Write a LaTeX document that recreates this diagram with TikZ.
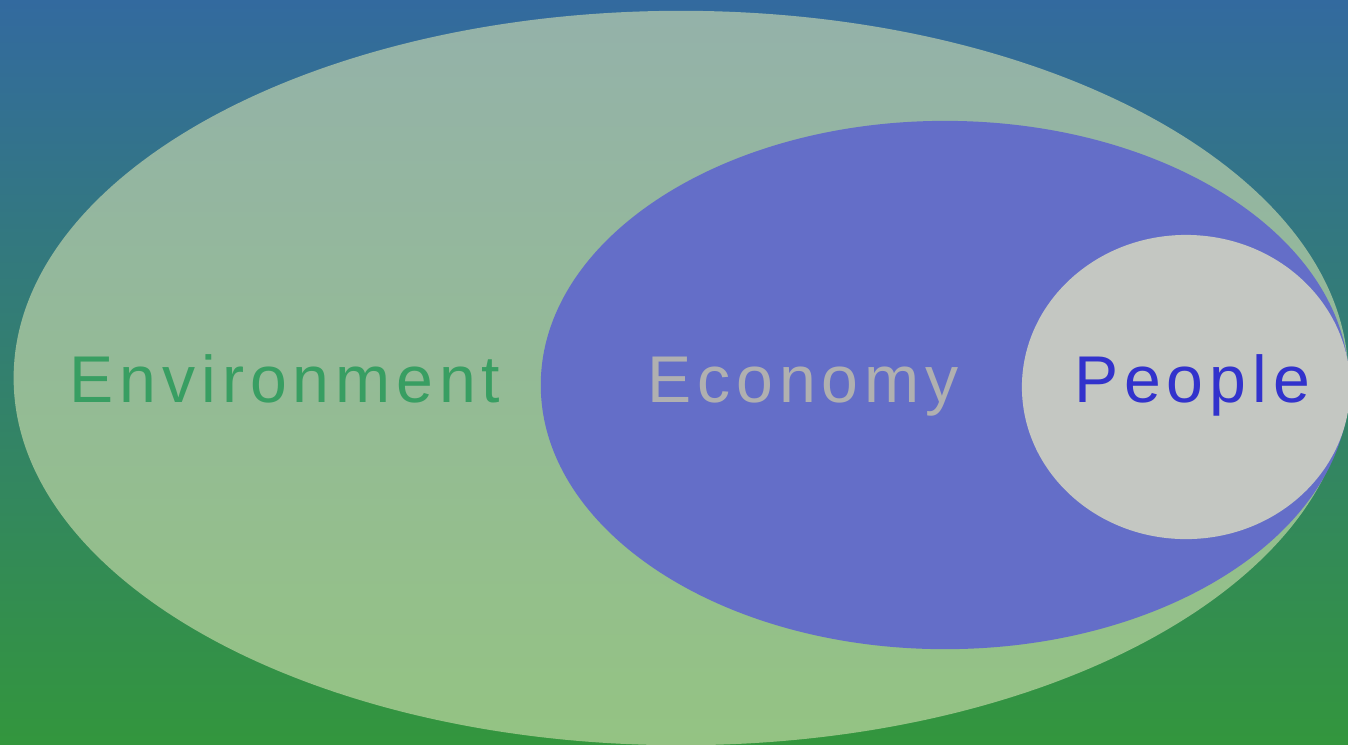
\documentclass[tikz,border=0pt]{standalone}
\usepackage{fontspec}
\newfontfamily\labelfont[LetterSpace=9]{Liberation Sans}
\usetikzlibrary{shapes.geometric}
\definecolor{skytop}{RGB}{51,106,159}
\definecolor{grassbottom}{RGB}{51,150,61}
\definecolor{envfill}{RGB}{214,226,178}
\definecolor{econfill}{RGB}{100,110,200}
\definecolor{peoplefill}{RGB}{196,199,194}
\definecolor{envtext}{RGB}{56,158,98}
\definecolor{econtext}{RGB}{176,176,176}
\definecolor{peopletext}{RGB}{50,50,204}
\tikzset{Nested/.style = {
		x=0.01cm, y=-0.01cm,
		every node/.style = {inner sep=0pt, outer sep=0pt},
		sphere/.style = {ellipse, draw=none},
		caption/.style = {anchor=base, font=\labelfont\fontsize{18.8}{22}\selectfont},
	}% end of Nested style
}
\begin{document}
\begin{tikzpicture}[Nested]
  \useasboundingbox (0,0) rectangle (1348,744);
  \shade[top color=skytop, bottom color=grassbottom] (0,0) rectangle (1348,744);
  \begin{scope}
   \clip (0,0) rectangle (1348,744);
   \node[sphere, fill=envfill, fill opacity=0.6, minimum width=13.34cm, minimum height=7.34cm] (env) at (681,378) {};
   \node[sphere, fill=econfill, minimum width=8.08cm, minimum height=5.28cm] (econ) at (945,385) {};
   \node[sphere, fill=peoplefill, minimum width=3.28cm, minimum height=3.04cm] (people) at (1186,387) {};
  \end{scope}
  \node[caption, text=envtext] (envlabel) at (285,402) {Environment};
  \node[caption, text=econtext] (econlabel) at (803,402) {Economy};
  \node[caption, text=peopletext] (peoplelabel) at (1192,402) {People};
\end{tikzpicture}
\end{document}
